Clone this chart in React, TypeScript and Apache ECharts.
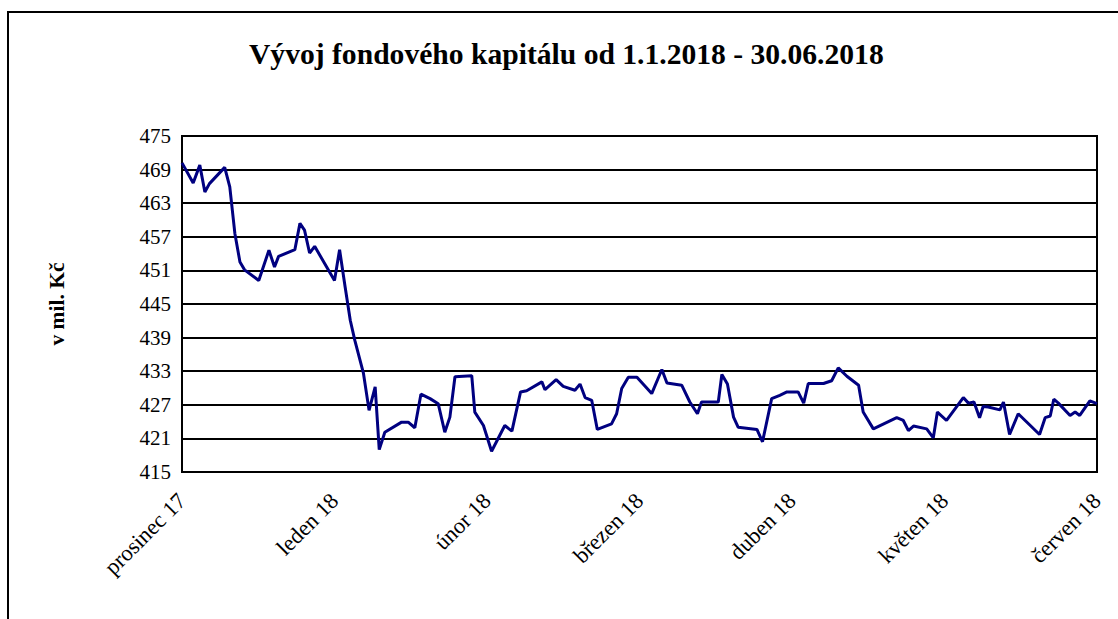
import React, { useEffect, useRef } from "react";
import * as echarts from "echarts";

const TITLE = "Vývoj fondového kapitálu od 1.1.2018 - 30.06.2018";
const Y_NAME = "v mil. Kč";
const MONTH_LABELS = ["prosinec 17", "leden 18", "únor 18", "březen 18", "duben 18", "květen 18", "červen 18"];
const Y_MIN = 415;
const Y_MAX = 475;
const Y_STEP = 6;
const X_MAX = 180;
const X_STEP = 30;

// position along the time axis (days from start of axis)
const days = [
  0, 2.2, 3.5, 4.5, 5.4, 8.4, 9.4, 10.4, 11.4, 12.3, 15.1, 17.1, 18.2, 19.0, 22.2, 23.2, 24.1, 25.1, 26.1,
  30.0, 31.0, 32.1, 33.1, 34.0, 35.7, 36.8, 38.0, 38.8, 39.9, 43.2, 44.5, 45.8, 47.0, 48.8, 50.4, 51.7,
  52.7, 53.7, 57.0, 57.6, 59.3, 60.9, 63.5, 64.9, 66.6, 67.8, 70.8, 71.4, 73.6, 75.0, 77.3, 78.3, 79.3,
  80.6, 81.7, 84.5, 85.5, 86.5, 87.8, 89.5, 92.4, 94.4, 95.4, 98.3, 99.9, 101.4, 102.2, 105.5, 106.2,
  107.3, 108.5, 109.4, 113.1, 114.2, 116.0, 117.6, 119.0, 121.2, 122.3, 123.2, 126.2, 127.8, 129.1,
  130.8, 133.1, 134.0, 136.0, 140.6, 141.9, 142.9, 143.9, 146.5, 147.8, 148.6, 150.4, 153.7, 154.7,
  155.8, 156.9, 157.6, 158.6, 160.9, 161.6, 162.8, 164.5, 168.7, 169.8, 170.8, 171.5, 172.4, 174.7,
  175.7, 176.6, 178.6, 180,
];

// fund capital in mil. CZK
const capital = [
  470.2, 466.6, 469.8, 465.0, 466.5, 469.4, 465.9, 457.6, 452.5, 451.1, 449.2, 454.6, 451.6, 453.5, 454.7,
  459.4, 458.2, 454.1, 455.3, 449.2, 454.7, 448.0, 442.1, 438.5, 432.6, 426.0, 430.2, 419.0, 422.1, 423.9,
  423.9, 422.9, 428.9, 428.1, 427.2, 422.1, 424.8, 432.0, 432.2, 425.7, 423.3, 418.7, 423.3, 422.3, 429.3,
  429.5, 431.1, 429.7, 431.5, 430.3, 429.6, 430.7, 428.3, 427.8, 422.6, 423.6, 425.4, 429.9, 431.9, 431.9,
  429.0, 433.3, 430.9, 430.5, 427.5, 425.4, 427.5, 427.5, 432.4, 430.7, 424.8, 423.0, 422.6, 420.4, 428.1,
  428.7, 429.3, 429.3, 427.3, 430.8, 430.8, 431.3, 433.6, 432.1, 430.5, 425.7, 422.7, 424.7, 424.2, 422.4,
  423.2, 422.7, 421.1, 425.7, 424.2, 428.3, 427.3, 427.5, 424.7, 426.7, 426.6, 426.1, 427.5, 421.7, 425.4,
  421.7, 424.7, 425.0, 428.0, 427.3, 425.1, 425.7, 425.1, 427.7, 427.2,
];

const FONT = "Liberation Serif, Tinos, Times New Roman, DejaVu Serif, serif";

export default function App() {
  const ref = useRef<HTMLDivElement>(null);
  useEffect(() => {
    if (!ref.current) return;
    const chart = echarts.init(ref.current, undefined, { renderer: "svg" });
    const seriesData = days.map((d, i) => [d, capital[i]]);
    chart.setOption({
      animation: false,
      backgroundColor: "#ffffff",
      textStyle: { fontFamily: FONT },
      title: {
        text: TITLE,
        left: 249,
        top: 39,
        padding: 0,
        textStyle: { fontFamily: FONT, fontSize: 29.6, fontWeight: "bold", color: "#000" },
      },
      graphic: [
        {
          type: "rect",
          shape: { x: 8, y: 12, width: 1200, height: 700 },
          style: { fill: "none", stroke: "#000", lineWidth: 2 },
          silent: true,
        },
      ],
      grid: {
        left: 182,
        right: 21,
        top: 136,
        bottom: 147,
        show: true,
        borderColor: "#000",
        borderWidth: 2,
        backgroundColor: "transparent",
      },
      xAxis: {
        type: "value",
        min: 0,
        max: X_MAX,
        interval: X_STEP,
        axisLine: { show: true, lineStyle: { color: "#000", width: 2 } },
        axisTick: { show: false },
        splitLine: { show: false },
        axisLabel: {
          rotate: 45,
          margin: 25,
          fontFamily: FONT,
          fontSize: 22.5,
          color: "#000",
          formatter: (v: number) => MONTH_LABELS[Math.round(v / X_STEP)] ?? "",
        },
      },
      yAxis: {
        type: "value",
        min: Y_MIN,
        max: Y_MAX,
        interval: Y_STEP,
        name: Y_NAME,
        nameLocation: "middle",
        nameGap: 114,
        nameTextStyle: { fontFamily: FONT, fontSize: 21.5, fontWeight: "bold", color: "#000" },
        axisLine: { show: true, lineStyle: { color: "#000", width: 2 } },
        axisTick: { show: false },
        splitLine: { show: true, lineStyle: { color: "#000", width: 2 } },
        axisLabel: { margin: 11, fontFamily: FONT, fontSize: 21, color: "#000" },
      },
      series: [
        {
          type: "line",
          data: seriesData,
          showSymbol: false,
          symbol: "none",
          lineStyle: { color: "#000080", width: 3 },
        },
      ],
    });
    return () => chart.dispose();
  }, []);
  return (
    <div
      ref={ref}
      style={{ position: "fixed", left: 0, top: 0, width: 1118, height: 619, background: "#fff" }}
    />
  );
}
